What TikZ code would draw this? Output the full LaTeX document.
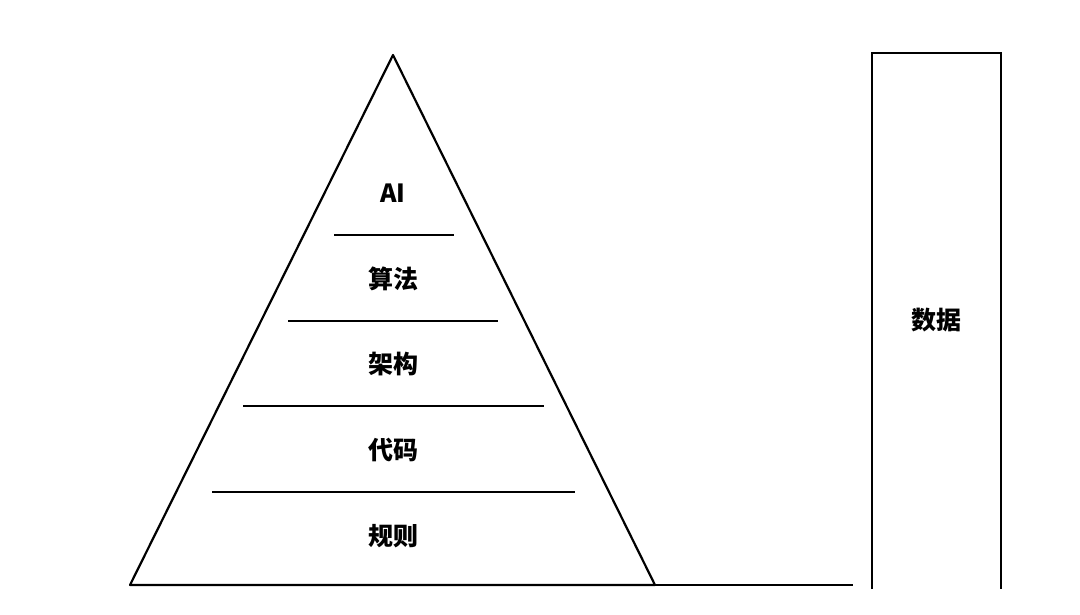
\documentclass[tikz,border=0pt]{standalone}
\usepackage{fontspec}
\newfontfamily\cjk{Noto Sans CJK SC}
\begin{document}
\begin{tikzpicture}[x=1pt,y=-1pt,font=\cjk\bfseries\fontsize{25}{30}\selectfont,
    layer/.style={inner sep=0pt},
    edge/.style={line width=2.2pt,black}]
    % Frame
    \useasboundingbox (0,0) rectangle (1080,614);

    % Pyramid
    \coordinate (Apex) at (393,55);
    \coordinate (BaseLeft) at (130,585);
    \coordinate (BaseRight) at (655,585);
    \coordinate (FloorEnd) at (853,585);
    \draw[edge, line join=round] (BaseLeft) -- (Apex) -- (BaseRight) -- cycle;
    \draw[edge] (BaseRight) -- (FloorEnd);

    % Layer separators
    \foreach \y/\l/\r in {235/334/454, 321/288/498, 406/243/544, 492/212/575} {
        \draw[edge] (\l,\y) -- (\r,\y);
    }

    % Layer labels
    \node[layer] (ai) at (393,193) {AI};
    \node[layer] (algo) at (393,279) {算法};
    \node[layer] (arch) at (393,364) {架构};
    \node[layer] (code) at (393,450) {代码};
    \node[layer] (rule) at (393,536) {规则};

    % Data pillar (open at the bottom)
    \coordinate (PillarBL) at (872,589);
    \coordinate (PillarTL) at (872,53);
    \coordinate (PillarTR) at (1001,53);
    \coordinate (PillarBR) at (1001,589);
    \draw[edge, line join=miter] (PillarBL) -- (PillarTL) -- (PillarTR) -- (PillarBR);
    \node[layer] (data) at (936,320) {数据};
\end{tikzpicture}
\end{document}
